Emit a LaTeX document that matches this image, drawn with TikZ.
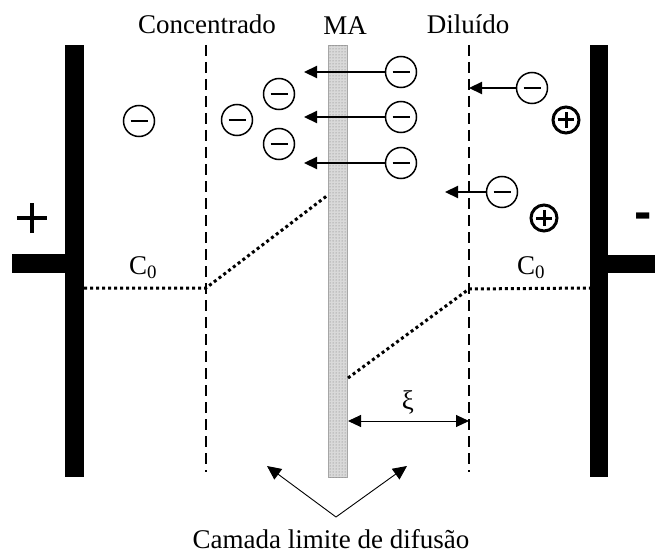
\documentclass[tikz,border=0pt]{standalone}
\usepackage{fontspec}
\setmainfont{Liberation Serif}
\newfontfamily\signfont{Liberation Sans}
\usetikzlibrary{arrows.meta,patterns}
\begin{document}
\begin{tikzpicture}[x=1pt,y=-1pt,
  every node/.style={font=\fontsize{27}{31}\selectfont},
  electrode/.style={fill=black,draw=none},
  boundary/.style={dashed,line width=1.3pt,dash pattern=on 11pt off 6pt},
  profile/.style={line width=3pt,dash pattern=on 3pt off 3pt},
  anion/.style={circle,draw,line width=1.5pt,minimum size=31pt,inner sep=0pt,
    path picture={\draw[line width=2.2pt] ([xshift=-8.5pt]path picture bounding box.center) -- ([xshift=8.5pt]path picture bounding box.center);}},
  cation/.style={circle,draw,line width=3pt,minimum size=26pt,inner sep=0pt,
    path picture={\draw[line width=3pt] ([xshift=-8pt]path picture bounding box.center) -- ([xshift=8pt]path picture bounding box.center);
      \draw[line width=3pt] ([yshift=-8pt]path picture bounding box.center) -- ([yshift=8pt]path picture bounding box.center);}},
  polesign/.style={minimum size=30pt,inner sep=0pt,
    path picture={\draw[line width=3.8pt] ([xshift=-15pt]path picture bounding box.center) -- ([xshift=15pt]path picture bounding box.center);
      \draw[line width=3.8pt] ([yshift=-15pt]path picture bounding box.center) -- ([yshift=15pt]path picture bounding box.center);}},
  flux/.style={line width=2.2pt,-{Triangle[length=13pt,width=12pt]}},
  thinarrow/.style={line width=0.9pt,-{Triangle[length=14pt,width=13pt]}}
]
\useasboundingbox (0,0) rectangle (655,556);
% electrodes
\fill[electrode] (65,45) rectangle (84,477);
\fill[electrode] (12,254) rectangle (84,273);
\fill[electrode] (590,45) rectangle (608,477);
\fill[electrode] (590,255) rectangle (655,273);
\node[polesign] (plus) at (32,218) {};
\node[font=\signfont\bfseries\fontsize{52}{52}\selectfont] (minus) at (643,221) {-};
% membrane
\node[draw=gray!70,line width=0.5pt,fill=gray!30,minimum width=19pt,minimum height=432pt,inner sep=0pt] (MA) at (337.5,261) {};
\fill[pattern=dots,pattern color=gray!90!black] (MA.south west) rectangle (MA.north east);
% boundary layers
\coordinate (L1) at (206,45); \coordinate (L2) at (206,472);
\coordinate (R1) at (469,45); \coordinate (R2) at (469,472);
\draw[boundary] (L1) -- (L2);
\draw[boundary] (R1) -- (R2);
% labels
\node (conc) at (207,24) {Concentrado};
\node (ma) at (345,26) {MA};
\node (dil) at (468,24) {Diluído};
\node (c0l) at (143,268) {C\textsubscript{0}};
\node (c0r) at (531,268) {C\textsubscript{0}};
\node (xi) at (408,402) {ξ};
\node (cam) at (331,539) {Camada limite de difusão};
% concentration profile
\coordinate (p1) at (84,288); \coordinate (p2) at (206,288); \coordinate (p3) at (328,195);
\coordinate (q1) at (348,378); \coordinate (q2) at (469,289); \coordinate (q3) at (590,288);
\draw[profile] (p1) -- (p2) -- (p3);
\draw[profile] (q1) -- (q2) -- (q3);
% ions
\node[anion] (i1) at (139,121) {};
\node[anion] (i2) at (237,120) {};
\node[anion] (i3) at (279,94) {};
\node[anion] (i4) at (279,144) {};
\node[anion] (i5) at (401,72) {};
\node[anion] (i6) at (401,117) {};
\node[anion] (i7) at (401,163) {};
\node[anion] (i8) at (532,88) {};
\node[anion] (i9) at (502,192) {};
\node[cation] (k1) at (566,120) {};
\node[cation] (k2) at (544,218) {};
% fluxes
\coordinate (t5) at (304,72); \coordinate (t6) at (304,117); \coordinate (t7) at (304,163);
\coordinate (t8) at (469,88); \coordinate (t9) at (445,192);
\draw[flux] (i5.west) -- (t5);
\draw[flux] (i6.west) -- (t6);
\draw[flux] (i7.west) -- (t7);
\draw[flux] (i8.west) -- (t8);
\draw[flux] (i9.west) -- (t9);
% xi
\coordinate (x1) at (348,421); \coordinate (x2) at (469,421);
\draw[line width=1pt,{Triangle[length=13pt,width=12pt]}-{Triangle[length=13pt,width=12pt]}] (x1) -- (x2);
% diffusion layer arrows
\coordinate (b0) at (336,517); \coordinate (b1) at (267,466); \coordinate (b2) at (407,466);
\draw[thinarrow] (b0) -- (b1);
\draw[thinarrow] (b0) -- (b2);
\end{tikzpicture}
\end{document}
